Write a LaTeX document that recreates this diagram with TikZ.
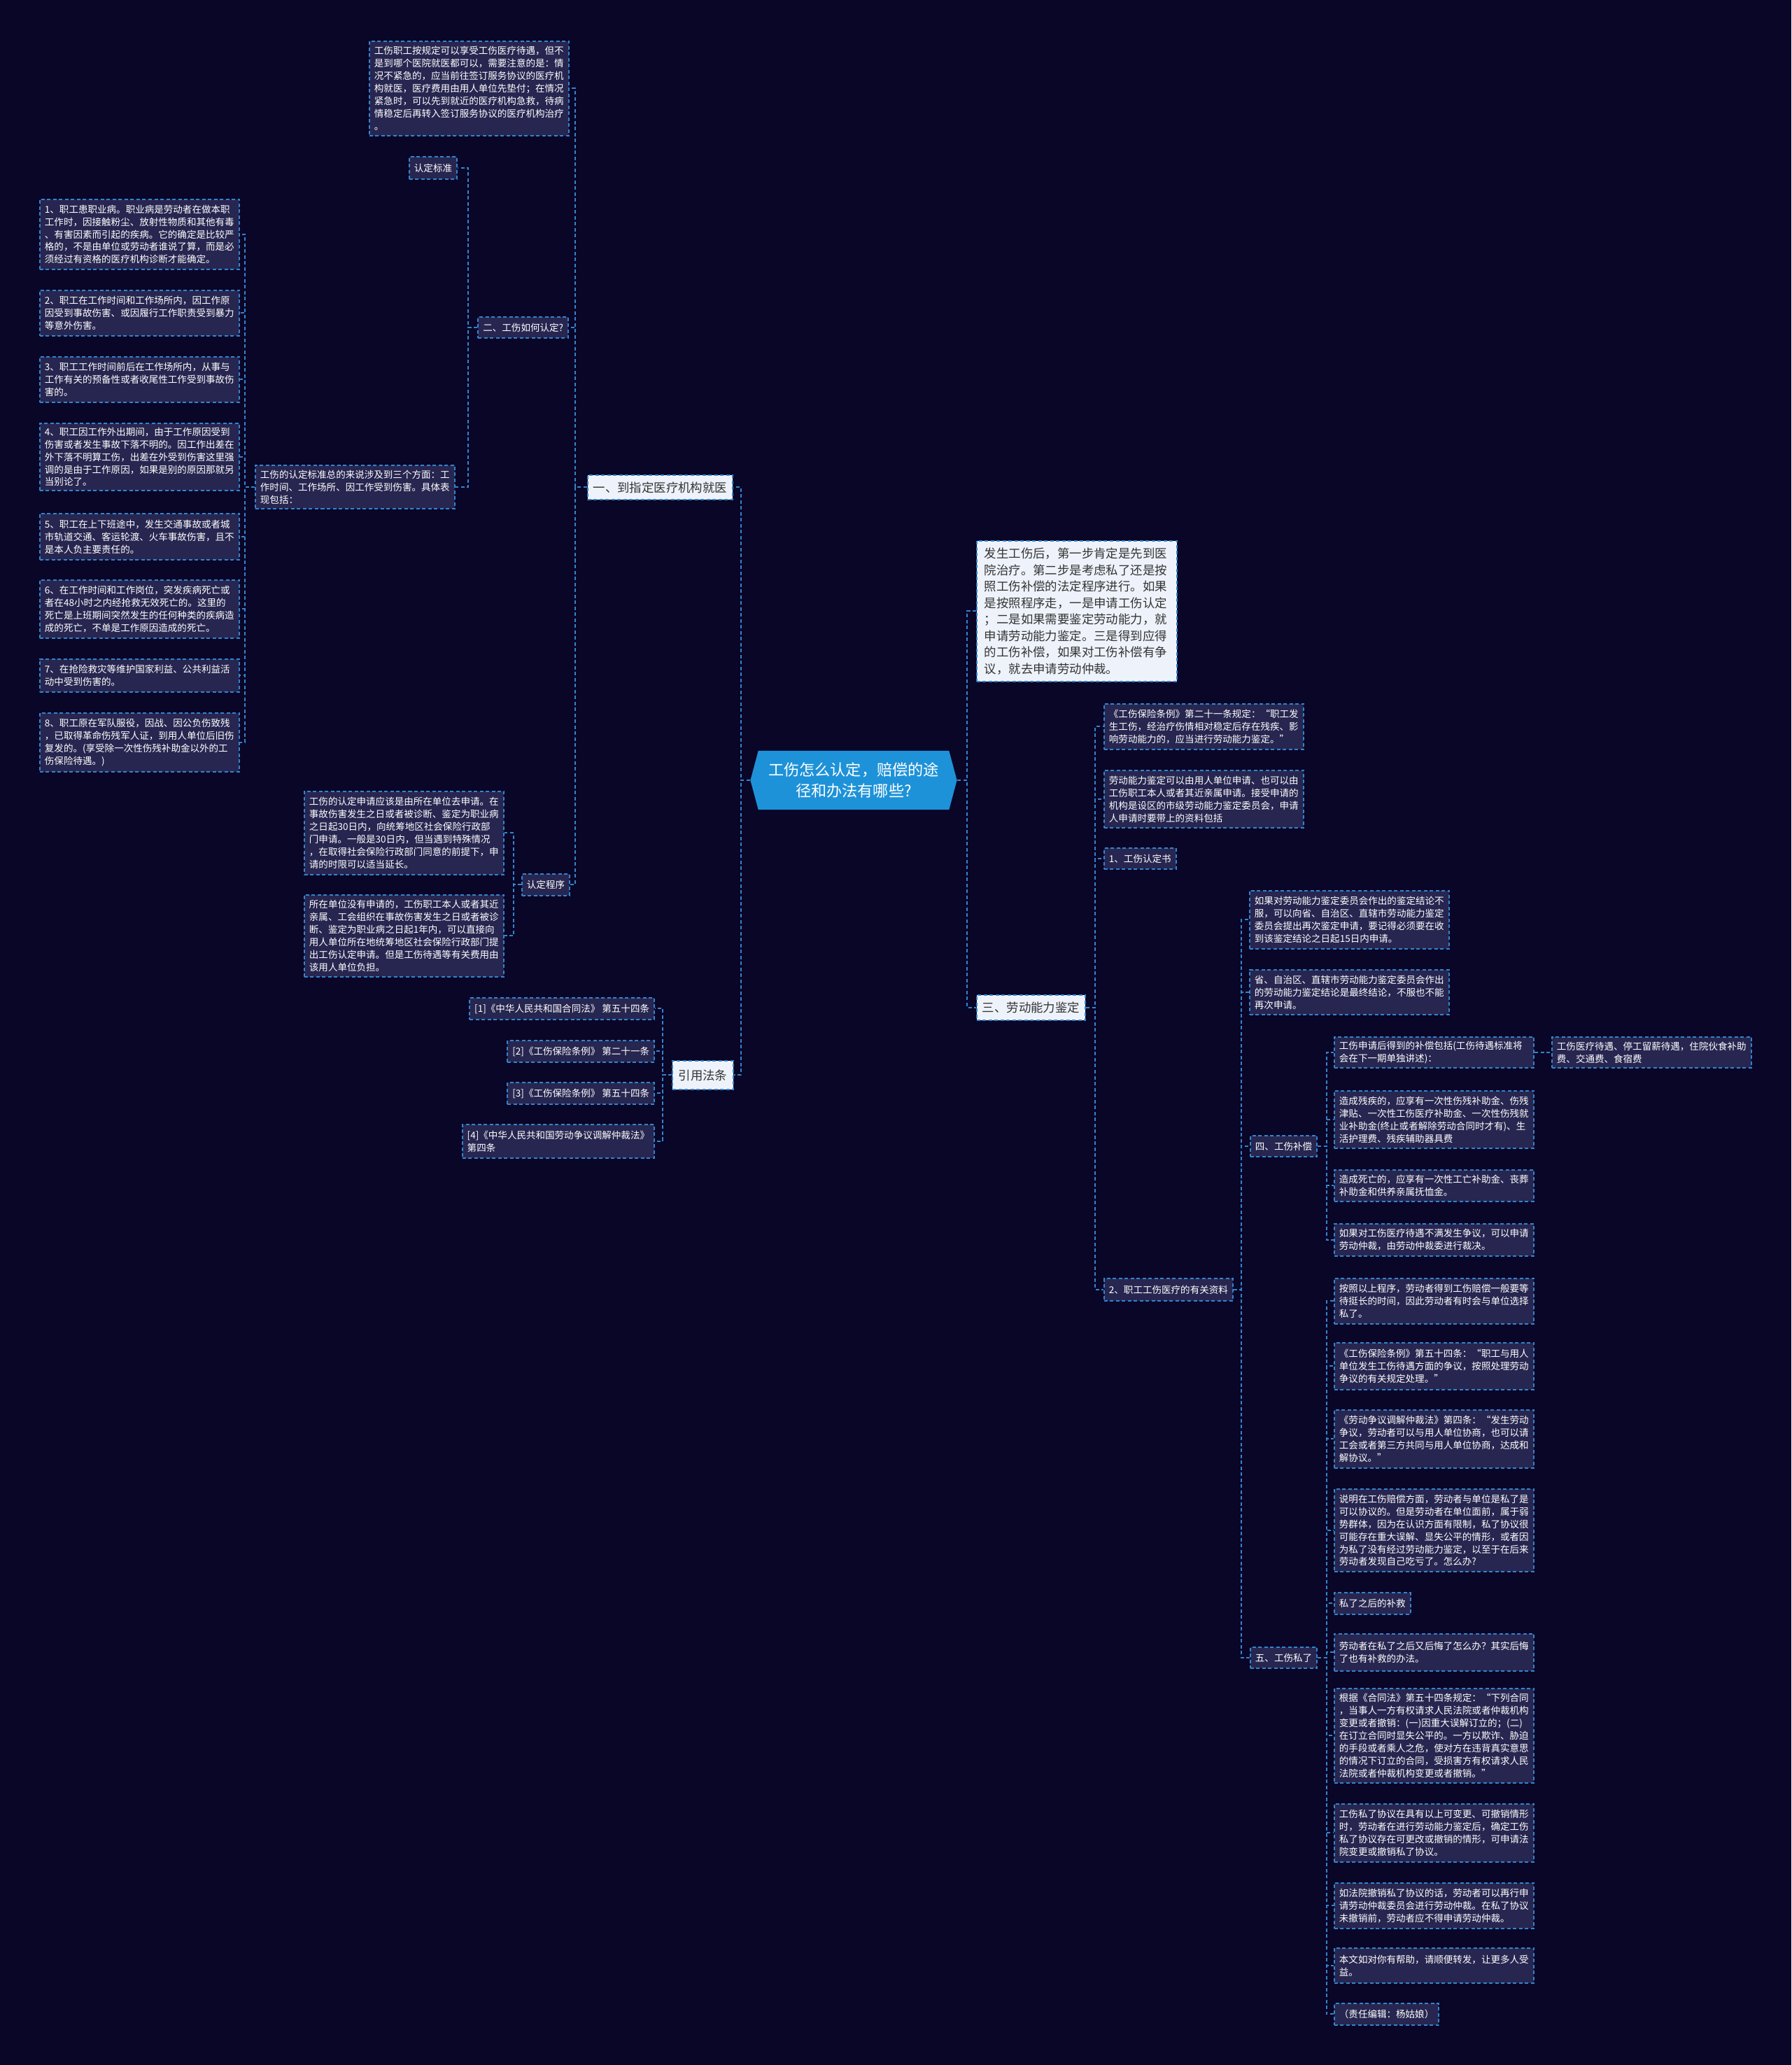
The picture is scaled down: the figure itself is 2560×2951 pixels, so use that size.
\documentclass[tikz,border=0pt]{standalone}
\usepackage{fontspec}
\setmainfont{Noto Sans CJK SC}
\usepackage{xcolor}
\usetikzlibrary{shapes.symbols}

\definecolor{bgnavy}{HTML}{0A0628}
\definecolor{leaffill}{HTML}{272650}
\definecolor{linkblue}{HTML}{3284CC}
\definecolor{mainfill}{HTML}{EEF3FB}
\definecolor{maintext}{HTML}{333333}
\definecolor{rootblue}{HTML}{1E92D8}

\newcommand{\leafsize}{\fontsize{3.85pt}{5.1pt}\selectfont}
\newcommand{\branchsize}{\fontsize{4.95pt}{6.7pt}\selectfont}
\newcommand{\rootsize}{\fontsize{6.3pt}{8.4pt}\selectfont}

\begin{document}
\begin{tikzpicture}[x=0.01cm, y=-0.01cm,
  link/.style={draw=linkblue, line width=0.02cm, dash pattern=on 0.05cm off 0.035cm},
  box/.style={draw=linkblue, line width=0.018cm, dash pattern=on 0.05cm off 0.035cm,
    fill=leaffill, text=white, inner xsep=0.07cm, inner ysep=0cm, minimum height=0.31cm, font=\leafsize},
  leaf/.style={box, text width=2.71cm, align=left},
  tag/.style={box, align=left},
  branch/.style={box, fill=mainfill, text=maintext, inner xsep=0.08cm, font=\branchsize, align=left},
  topic/.style={signal, signal to=east and west, signal pointer angle=150, fill=rootblue, text=white,
    font=\rootsize, align=center, inner sep=0pt, minimum width=2.95cm, minimum height=0.84cm}]

  \fill[bgnavy] (0,0) rectangle (2560,2951);
  \useasboundingbox (0,0) rectangle (2560,2951);

  % CENTRE
  \node[topic] (root) at (1220,1115) {工伤怎么认定，赔偿的途\\径和办法有哪些?};

  % LEFT: 一、到指定医疗机构就医
  \node[branch, anchor=north east, minimum width=2.07cm, minimum height=0.35cm] (yi) at (1048,678) {一、到指定医疗机构就医};
  \node[leaf, anchor=north east, minimum height=1.35cm] (yiliao) at (814,58) {工伤职工按规定可以享受工伤医疗待遇，但不\\是到哪个医院就医都可以，需要注意的是：情\\况不紧急的，应当前往签订服务协议的医疗机\\构就医，医疗费用由用人单位先垫付；在情况\\紧急时，可以先到就近的医疗机构急救，待病\\情稳定后再转入签订服务协议的医疗机构治疗\\。};
  \node[tag, anchor=north east, minimum height=0.30cm] (rending) at (813,452) {二、工伤如何认定?};
  \node[tag, anchor=north east, minimum height=0.32cm] (biaozhun) at (654,223) {认定标准};
  \node[leaf, anchor=north east, minimum height=0.62cm] (zongshu) at (651,664) {工伤的认定标准总的来说涉及到三个方面：工\\作时间、工作场所、因工作受到伤害。具体表\\现包括：};

  \node[leaf, anchor=north east, minimum height=1.00cm] (item1) at (343,284) {1、职工患职业病。职业病是劳动者在做本职\\工作时，因接触粉尘、放射性物质和其他有毒\\、有害因素而引起的疾病。它的确定是比较严\\格的，不是由单位或劳动者谁说了算，而是必\\须经过有资格的医疗机构诊断才能确定。};
  \node[leaf, anchor=north east, minimum height=0.65cm] (item2) at (343,414) {2、职工在工作时间和工作场所内，因工作原\\因受到事故伤害、或因履行工作职责受到暴力\\等意外伤害。};
  \node[leaf, anchor=north east, minimum height=0.65cm] (item3) at (343,509) {3、职工工作时间前后在工作场所内，从事与\\工作有关的预备性或者收尾性工作受到事故伤\\害的。};
  \node[leaf, anchor=north east, minimum height=0.96cm] (item4) at (343,604) {4、职工因工作外出期间，由于工作原因受到\\伤害或者发生事故下落不明的。因工作出差在\\外下落不明算工伤，出差在外受到伤害这里强\\调的是由于工作原因，如果是别的原因那就另\\当别论了。};
  \node[leaf, anchor=north east, minimum height=0.66cm] (item5) at (343,733) {5、职工在上下班途中，发生交通事故或者城\\市轨道交通、客运轮渡、火车事故伤害，且不\\是本人负主要责任的。};
  \node[leaf, anchor=north east, minimum height=0.83cm] (item6) at (343,828) {6、在工作时间和工作岗位，突发疾病死亡或\\者在48小时之内经抢救无效死亡的。这里的\\死亡是上班期间突然发生的任何种类的疾病造\\成的死亡，不单是工作原因造成的死亡。};
  \node[leaf, anchor=north east, minimum height=0.47cm] (item7) at (343,941) {7、在抢险救灾等维护国家利益、公共利益活\\动中受到伤害的。};
  \node[leaf, anchor=north east, minimum height=0.84cm] (item8) at (343,1018) {8、职工原在军队服役，因战、因公负伤致残\\，已取得革命伤残军人证，到用人单位后旧伤\\复发的。(享受除一次性伤残补助金以外的工\\伤保险待遇。)};

  \node[tag, anchor=north east, minimum height=0.31cm] (chengxu) at (815,1248) {认定程序};
  \node[leaf, anchor=north east, minimum height=1.19cm] (shenqing) at (721,1130) {工伤的认定申请应该是由所在单位去申请。在\\事故伤害发生之日或者被诊断、鉴定为职业病\\之日起30日内，向统筹地区社会保险行政部\\门申请。一般是30日内，但当遇到特殊情况\\，在取得社会保险行政部门同意的前提下，申\\请的时限可以适当延长。};
  \node[leaf, anchor=north east, minimum height=1.17cm] (benren) at (721,1278) {所在单位没有申请的，工伤职工本人或者其近\\亲属、工会组织在事故伤害发生之日或者被诊\\断、鉴定为职业病之日起1年内，可以直接向\\用人单位所在地统筹地区社会保险行政部门提\\出工伤认定申请。但是工伤待遇等有关费用由\\该用人单位负担。};

  % LEFT: 引用法条
  \node[branch, anchor=north east, minimum width=0.87cm, minimum height=0.41cm] (yinyong) at (1049,1515) {引用法条};
  \node[tag, anchor=north east] (fa1) at (936,1425) {[1]《中华人民共和国合同法》 第五十四条};
  \node[tag, anchor=north east] (fa2) at (936,1486) {[2]《工伤保险条例》 第二十一条};
  \node[tag, anchor=north east] (fa3) at (936,1546) {[3]《工伤保险条例》 第五十四条};
  \node[tag, anchor=north east, minimum height=0.48cm] (fa4) at (936,1606) {[4]《中华人民共和国劳动争议调解仲裁法》\\第四条};

  % RIGHT: 三、劳动能力鉴定
  \node[branch, anchor=north west, text width=2.64cm, inner xsep=0.11cm, minimum height=2.01cm] (fasheng) at (1395,772) {发生工伤后，第一步肯定是先到医\\院治疗。第二步是考虑私了还是按\\照工伤补偿的法定程序进行。如果\\是按照程序走，一是申请工伤认定\\；二是如果需要鉴定劳动能力，就\\申请劳动能力鉴定。三是得到应得\\的工伤补偿，如果对工伤补偿有争\\议，就去申请劳动仲裁。};
  \node[branch, anchor=north west, minimum width=1.54cm, minimum height=0.36cm] (san) at (1395,1421) {三、劳动能力鉴定};

  \node[leaf, anchor=north west, minimum height=0.65cm] (tiaoli) at (1577,1005) {《工伤保险条例》第二十一条规定：“职工发\\生工伤，经治疗伤情相对稳定后存在残疾、影\\响劳动能力的，应当进行劳动能力鉴定。”};
  \node[leaf, anchor=north west, minimum height=0.82cm] (shenqingren) at (1577,1100) {劳动能力鉴定可以由用人单位申请、也可以由\\工伤职工本人或者其近亲属申请。接受申请的\\机构是设区的市级劳动能力鉴定委员会，申请\\人申请时要带上的资料包括};
  \node[tag, anchor=north west, minimum height=0.30cm] (rendingshu) at (1577,1211) {1、工伤认定书};
  \node[tag, anchor=north west, minimum height=0.32cm] (ziliao) at (1577,1826) {2、职工工伤医疗的有关资料};

  \node[leaf, anchor=north west, minimum height=0.83cm] (bufu) at (1785,1272) {如果对劳动能力鉴定委员会作出的鉴定结论不\\服，可以向省、自治区、直辖市劳动能力鉴定\\委员会提出再次鉴定申请，要记得必须要在收\\到该鉴定结论之日起15日内申请。};
  \node[leaf, anchor=north west, minimum height=0.64cm] (zuizhong) at (1785,1385) {省、自治区、直辖市劳动能力鉴定委员会作出\\的劳动能力鉴定结论是最终结论，不服也不能\\再次申请。};
  \node[tag, anchor=north west, minimum height=0.30cm] (si) at (1786,1622) {四、工伤补偿};
  \node[tag, anchor=north west, minimum height=0.30cm] (wu) at (1786,2353) {五、工伤私了};

  % 四、工伤补偿
  \node[leaf, anchor=north west, minimum height=0.44cm] (buchang) at (1906,1481) {工伤申请后得到的补偿包括(工伤待遇标准将\\会在下一期单独讲述)：};
  \node[leaf, anchor=north west, minimum height=0.44cm] (daiyu) at (2217,1481) {工伤医疗待遇、停工留薪待遇，住院伙食补助\\费、交通费、食宿费};
  \node[leaf, anchor=north west, minimum height=0.82cm] (canji) at (1906,1558) {造成残疾的，应享有一次性伤残补助金、伤残\\津贴、一次性工伤医疗补助金、一次性伤残就\\业补助金(终止或者解除劳动合同时才有)、生\\活护理费、残疾辅助器具费};
  \node[leaf, anchor=north west, minimum height=0.45cm] (siwang) at (1906,1671) {造成死亡的，应享有一次性工亡补助金、丧葬\\补助金和供养亲属抚恤金。};
  \node[leaf, anchor=north west, minimum height=0.46cm] (zhengyi) at (1906,1748) {如果对工伤医疗待遇不满发生争议，可以申请\\劳动仲裁，由劳动仲裁委进行裁决。};

  % 五、工伤私了
  \node[leaf, anchor=north west, minimum height=0.65cm] (siliao1) at (1906,1826) {按照以上程序，劳动者得到工伤赔偿一般要等\\待挺长的时间，因此劳动者有时会与单位选择\\私了。};
  \node[leaf, anchor=north west, minimum height=0.67cm] (siliao2) at (1906,1918) {《工伤保险条例》第五十四条：“职工与用人\\单位发生工伤待遇方面的争议，按照处理劳动\\争议的有关规定处理。”};
  \node[leaf, anchor=north west, minimum height=0.83cm] (siliao3) at (1906,2014) {《劳动争议调解仲裁法》第四条：“发生劳动\\争议，劳动者可以与用人单位协商，也可以请\\工会或者第三方共同与用人单位协商，达成和\\解协议。”};
  \node[leaf, anchor=north west, minimum height=1.18cm] (siliao4) at (1906,2127) {说明在工伤赔偿方面，劳动者与单位是私了是\\可以协议的。但是劳动者在单位面前，属于弱\\势群体，因为在认识方面有限制，私了协议很\\可能存在重大误解、显失公平的情形，或者因\\为私了没有经过劳动能力鉴定，以至于在后来\\劳动者发现自己吃亏了。怎么办?};
  \node[tag, anchor=north west, minimum height=0.31cm] (siliao5) at (1906,2275) {私了之后的补救};
  \node[leaf, anchor=north west, minimum height=0.53cm] (siliao6) at (1906,2334) {劳动者在私了之后又后悔了怎么办？其实后悔\\了也有补救的办法。};
  \node[leaf, anchor=north west, minimum height=1.35cm] (siliao7) at (1906,2412) {根据《合同法》第五十四条规定：“下列合同\\，当事人一方有权请求人民法院或者仲裁机构\\变更或者撤销：(一)因重大误解订立的；(二)\\在订立合同时显失公平的。一方以欺诈、胁迫\\的手段或者乘人之危，使对方在违背真实意思\\的情况下订立的合同，受损害方有权请求人民\\法院或者仲裁机构变更或者撤销。”};
  \node[leaf, anchor=north west, minimum height=0.83cm] (siliao8) at (1906,2577) {工伤私了协议在具有以上可变更、可撤销情形\\时，劳动者在进行劳动能力鉴定后，确定工伤\\私了协议存在可更改或撤销的情形，可申请法\\院变更或撤销私了协议。};
  \node[leaf, anchor=north west, minimum height=0.65cm] (siliao9) at (1906,2690) {如法院撤销私了协议的话，劳动者可以再行申\\请劳动仲裁委员会进行劳动仲裁。在私了协议\\未撤销前，劳动者应不得申请劳动仲裁。};
  \node[leaf, anchor=north west, minimum height=0.50cm] (siliao10) at (1906,2783) {本文如对你有帮助，请顺便转发，让更多人受\\益。};
  \node[tag, anchor=north west, minimum height=0.31cm] (siliao11) at (1906,2862) {（责任编辑：杨姑娘）};

  % connectors, left side
  \foreach \c in {yi, yinyong} \draw[link] (root.west) -- ++(-13,0) |- (\c.east);
  \foreach \c in {yiliao, rending, chengxu} \draw[link] (yi.west) -- ++(-17,0) |- (\c.east);
  \foreach \c in {biaozhun, zongshu} \draw[link] (rending.west) -- ++(-13,0) |- (\c.east);
  \foreach \n in {1,...,8} \draw[link] (zongshu.west) -- ++(-14,0) |- (item\n.east);
  \foreach \c in {shenqing, benren} \draw[link] (chengxu.west) -- ++(-11,0) |- (\c.east);
  \foreach \n in {1,...,4} \draw[link] (yinyong.west) -- ++(-13,0) |- (fa\n.east);

  % connectors, right side
  \foreach \c in {fasheng, san} \draw[link] (root.east) -- ++(14,0) |- (\c.west);
  \foreach \c in {tiaoli, shenqingren, rendingshu, ziliao} \draw[link] (san.east) -- ++(13,0) |- (\c.west);
  \foreach \c in {bufu, zuizhong, si, wu} \draw[link] (ziliao.east) -- ++(11,0) |- (\c.west);
  \foreach \c in {buchang, canji, siwang, zhengyi} \draw[link] (si.east) -- ++(13,0) |- (\c.west);
  \draw[link] (buchang.east) -- ++(13,0) |- (daiyu.west);
  \foreach \n in {1,...,11} \draw[link] (wu.east) -- ++(13,0) |- (siliao\n.west);
\end{tikzpicture}
\end{document}
